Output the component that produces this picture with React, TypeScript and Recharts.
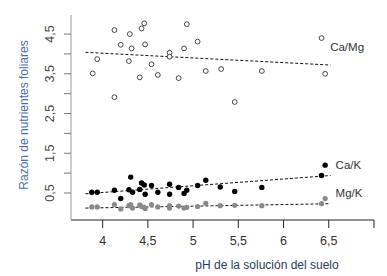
import React from 'react';
import { ScatterChart, Scatter, XAxis, YAxis, ReferenceLine, ReferenceDot } from 'recharts';

const caMgPh = [3.89, 3.94, 4.13, 4.13, 4.20, 4.29, 4.30, 4.32, 4.41, 4.43, 4.46, 4.47, 4.54, 4.61, 4.74, 4.74, 4.84, 4.90, 4.93, 5.05, 5.14, 5.31, 5.46, 5.76, 6.42, 6.46];
const caMgVal = [3.51, 3.87, 4.60, 2.91, 4.23, 3.82, 4.50, 4.14, 3.41, 4.64, 4.77, 4.24, 3.74, 3.47, 4.03, 3.93, 3.39, 4.14, 4.75, 4.31, 3.57, 3.62, 2.79, 3.57, 4.40, 3.50];

const kPh = [3.88, 3.94, 4.13, 4.20, 4.29, 4.31, 4.33, 4.41, 4.43, 4.46, 4.47, 4.54, 4.61, 4.74, 4.74, 4.84, 4.90, 4.93, 5.05, 5.14, 5.30, 5.46, 5.76, 6.42, 6.46];
const caKVal = [0.52, 0.52, 0.57, 0.36, 0.58, 0.90, 0.52, 0.59, 0.75, 0.70, 0.47, 0.69, 0.52, 0.72, 0.47, 0.64, 0.49, 0.57, 0.69, 0.82, 0.65, 0.54, 0.64, 0.94, 1.20];
const mgKVal = [0.15, 0.15, 0.21, 0.10, 0.18, 0.21, 0.12, 0.20, 0.16, 0.14, 0.11, 0.21, 0.15, 0.18, 0.12, 0.17, 0.12, 0.14, 0.16, 0.24, 0.18, 0.19, 0.18, 0.23, 0.36];

const trendPh = [3.81, 6.52];
const caMgTrend = [4.04, 3.72];
const caKTrend = [0.48, 0.94];
const mgKTrend = [0.12, 0.23];

const xTicks = [4, 4.5, 5, 5.5, 6, 6.5, 7];
const xTickLabels = ['4', '4,5', '5', '5,5', '6', '6,5', ''];
const yTicks = [0.5, 1, 1.5, 2, 2.5, 3, 3.5, 4, 4.5];
const yTickLabels = ['0,5', '', '1,5', '', '2,5', '', '3,5', '', '4,5'];

const seriesNames = ['Ca/Mg', 'Ca/K', 'Mg/K'];
const seriesLabelAt = [
  { x: 6.46, y: 4.17 },
  { x: 6.52, y: 1.21 },
  { x: 6.52, y: 0.51 },
];

const caMgData = caMgPh.map((x, i) => ({ x, y: caMgVal[i] }));
const caKData = kPh.map((x, i) => ({ x, y: caKVal[i] }));
const mgKData = kPh.map((x, i) => ({ x, y: mgKVal[i] }));

const FONT = '"Liberation Sans", Arial, sans-serif';

const XTick = (props: any) => {
  const { x, y, payload } = props;
  const i = xTicks.indexOf(payload.value);
  return (
    <text x={x} y={245} textAnchor="middle" fontSize={12.5} fill="#333" fontFamily={FONT}>
      {xTickLabels[i]}
    </text>
  );
};

const YTick = (props: any) => {
  const { y, payload } = props;
  const i = yTicks.indexOf(payload.value);
  const lbl = yTickLabels[i];
  if (!lbl) return null;
  return (
    <text
      x={50}
      y={y}
      transform={`rotate(-90, 50, ${y})`}
      textAnchor="middle"
      dominantBaseline="central"
      fontSize={12.5}
      fill="#444"
      fontFamily={FONT}
    >
      {lbl}
    </text>
  );
};

const openCircle = (p: any) => (
  <circle cx={p.cx} cy={p.cy} r={2.4} fill="#fff" stroke="#333" strokeWidth={0.9} />
);
const blackDot = (p: any) => <circle cx={p.cx} cy={p.cy} r={2.7} fill="#000" />;
const grayDot = (p: any) => <circle cx={p.cx} cy={p.cy} r={2.6} fill="#8a8a8a" />;

export default function App() {
  const trends = [caMgTrend, caKTrend, mgKTrend];
  return (
    <div style={{ position: 'absolute', left: 0, top: 0, width: 387, height: 276, background: '#fff' }}>
      <ScatterChart width={387} height={276} margin={{ top: 15, right: 13, bottom: 0, left: 0 }}>
        <XAxis
          type="number"
          dataKey="x"
          domain={[3.65, 7.0]}
          ticks={xTicks}
          allowDataOverflow
          height={56}
          tickSize={8}
          axisLine={{ stroke: '#222', strokeWidth: 1 }}
          tickLine={{ stroke: '#222', strokeWidth: 1 }}
          tick={<XTick />}
          interval={0}
          label={{
            content: () => (
              <text x={267} y={269} textAnchor="middle" fontSize={12} fill="#2c3a5a" fontFamily={FONT}>
                pH de la solución del suelo
              </text>
            ),
          }}
        />
        <YAxis
          type="number"
          dataKey="y"
          domain={[-0.18, 4.98]}
          ticks={yTicks}
          allowDataOverflow
          width={71}
          tickSize={7}
          axisLine={{ stroke: '#999', strokeWidth: 1 }}
          tickLine={{ stroke: '#777', strokeWidth: 1 }}
          tick={<YTick />}
          interval={0}
          label={{
            content: () => (
              <text
                x={28}
                y={115}
                transform="rotate(-90, 28, 115)"
                textAnchor="middle"
                fontSize={12}
                fill="#4a6fa5"
                fontFamily={FONT}
              >
                Razón de nutrientes foliares
              </text>
            ),
          }}
        />
        {trends.map((t, k) => (
          <ReferenceLine
            key={k}
            segment={[
              { x: trendPh[0], y: t[0] },
              { x: trendPh[1], y: t[1] },
            ]}
            stroke="#111"
            strokeWidth={1}
            strokeDasharray="3 2"
            ifOverflow="visible"
          />
        ))}
        <Scatter data={mgKData} shape={grayDot} isAnimationActive={false} />
        <Scatter data={caKData} shape={blackDot} isAnimationActive={false} />
        <Scatter data={caMgData} shape={openCircle} isAnimationActive={false} />
        {seriesNames.map((n, k) => (
          <ReferenceDot
            key={n}
            x={seriesLabelAt[k].x}
            y={seriesLabelAt[k].y}
            r={0}
            fill="none"
            stroke="none"
            ifOverflow="visible"
            label={{ value: n, position: 'right', offset: 5, fontSize: 11.5, fill: '#333', fontFamily: FONT }}
          />
        ))}
      </ScatterChart>
    </div>
  );
}
